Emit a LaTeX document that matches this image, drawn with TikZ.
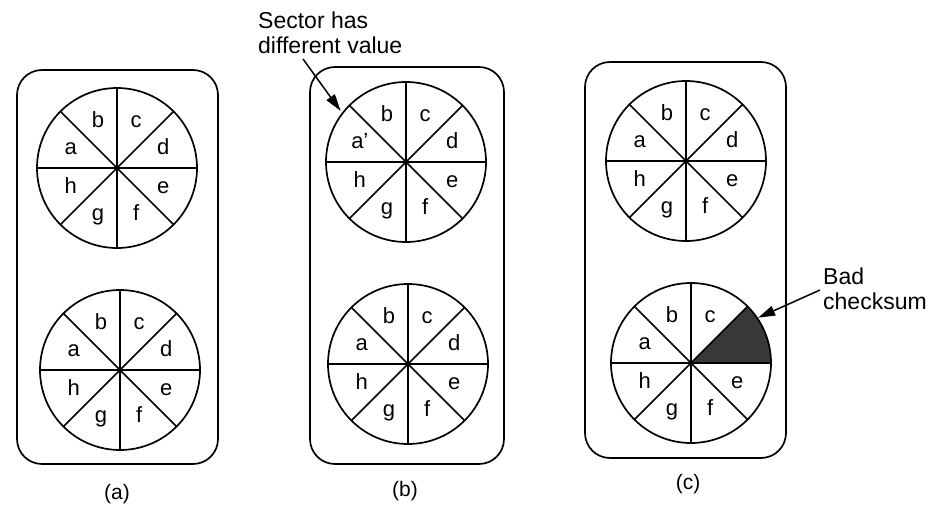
\documentclass[tikz,border=0pt]{standalone}
\usepackage{fontspec}
\setmainfont{Liberation Sans}
\usetikzlibrary{calc,arrows.meta}

\tikzset{
  panel/.style={line width=1.7pt, rounded corners=25pt},
  rim/.style={line width=1.7pt},
  spoke/.style={line width=1.5pt},
  sectlab/.style={anchor=base, inner sep=0pt, font=\fontsize{22}{24}\selectfont},
  note/.style={anchor=base west, inner sep=0pt, font=\fontsize{23}{26}\selectfont},
  caption/.style={inner sep=0pt, font=\fontsize{21}{24}\selectfont},
  pointer/.style={line width=1.5pt, -{Triangle[length=17pt,width=10pt]}},
  bad/.style={fill=black!78}
}

% one disk: name, centre, list of label/angle/key
\newcommand\drawdisk[3]{%
  \coordinate (#1) at (#2);
  \foreach \t in {0,45,90,135}
    \draw[spoke] ($(#1)+(\t:80pt)$) -- ($(#1)+(\t+180:80pt)$);
  \draw[rim] (#1) circle[radius=80pt];
  \fill (#1) circle[radius=2.6pt];
  \foreach \l/\a/\k in {#3}
    \node[sectlab] (#1-\k) at ($(#1)+(\a:50pt)+(0,-6pt)$) {\l};
}

\begin{document}
\begin{tikzpicture}[x=1pt,y=-1pt]
\useasboundingbox (0,0) rectangle (943,522);

% mirrored pairs
\draw[panel] (17,70) rectangle (218,464);
\draw[panel] (310,67) rectangle (504,464);
\draw[panel] (585,62) rectangle (786,458);

% damaged sector
\coordinate (c2) at (691,363);
\fill[bad] (c2) -- ($(c2)+(0:80pt)$) arc[start angle=0, end angle=45, radius=80pt] -- cycle;

\drawdisk{a1}{117,168}{a/157.5/1,b/112.5/2,c/67.5/3,d/22.5/4,e/-22.5/5,f/-67.5/6,g/-112.5/7,h/-157.5/8}
\drawdisk{a2}{120,370}{a/157.5/1,b/112.5/2,c/67.5/3,d/22.5/4,e/-22.5/5,f/-67.5/6,g/-112.5/7,h/-157.5/8}
\drawdisk{b1}{406,162}{a’/157.5/1,b/112.5/2,c/67.5/3,d/22.5/4,e/-22.5/5,f/-67.5/6,g/-112.5/7,h/-157.5/8}
\drawdisk{b2}{408,364}{a/157.5/1,b/112.5/2,c/67.5/3,d/22.5/4,e/-22.5/5,f/-67.5/6,g/-112.5/7,h/-157.5/8}
\drawdisk{c1}{686,161}{a/157.5/1,b/112.5/2,c/67.5/3,d/22.5/4,e/-22.5/5,f/-67.5/6,g/-112.5/7,h/-157.5/8}
\drawdisk{c2}{691,363}{a/157.5/1,b/112.5/2,c/67.5/3,e/-22.5/5,f/-67.5/6,g/-112.5/7,h/-157.5/8}

% annotations
\node[note] (sect1) at (258,28) {Sector has};
\node[note] (sect2) at (258,53) {different value};
\coordinate (sectTail) at (303,59);
\draw[pointer] (sectTail) -- ($(b1)+(142:83pt)$);

\node[note] (bad1) at (823,284) {Bad};
\node[note] (bad2) at (823,309) {checksum};
\coordinate (badTail) at (820,290);
\draw[pointer] (badTail) -- ($(c2)+(34:81pt)$);

% captions
\node[caption] (capa) at (117,494) {(a)};
\node[caption] (capb) at (405,491) {(b)};
\node[caption] (capc) at (688,484) {(c)};
\end{tikzpicture}
\end{document}
